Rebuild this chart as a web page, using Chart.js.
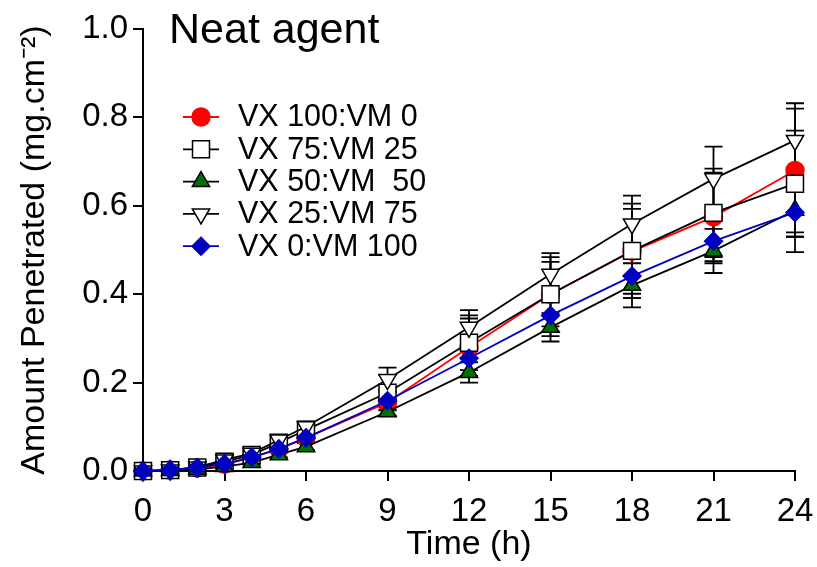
<!DOCTYPE html>
<html lang="en">
<head>
    <meta charset="UTF-8">
    <title>Neat agent</title>
    <script src="https://cdn.jsdelivr.net/npm/chart.js"></script>
    <style>
        body { margin: 0; background: #fff; }
        #wrap { width: 817px; height: 567px; }
    </style>
</head>
<body>
    <div id="wrap"><canvas id="chart" width="817" height="567"></canvas></div>

    <script>
        // Time points (h)
        const times = [0, 1, 2, 3, 4, 5, 6, 9, 12, 15, 18, 21, 24];

        // Mean amount penetrated (mg.cm-2)
        const vx100 = [0, 0.002, 0.007, 0.015, 0.030, 0.050, 0.075, 0.155, 0.280, 0.400, 0.497, 0.575, 0.680];
        const vx75  = [0, 0.002, 0.008, 0.021, 0.036, 0.064, 0.093, 0.177, 0.290, 0.400, 0.498, 0.584, 0.650];
        const vx50  = [0, 0.001, 0.004, 0.010, 0.019, 0.037, 0.055, 0.134, 0.223, 0.325, 0.420, 0.498, 0.590];
        const vx25  = [0, 0.002, 0.009, 0.025, 0.040, 0.070, 0.100, 0.207, 0.325, 0.445, 0.559, 0.661, 0.748];
        const vx0   = [0, 0.002, 0.008, 0.016, 0.031, 0.050, 0.075, 0.159, 0.255, 0.352, 0.441, 0.520, 0.585];

        // Error bars (+/-)
        const err100 = [0, 0.001, 0.002, 0.004, 0.006, 0.008, 0.010, 0.030, 0.065, 0.073, 0.096, 0.100, 0.140];
        const err75  = [0, 0.001, 0.002, 0.004, 0.006, 0.008, 0.012, 0.040, 0.062, 0.084, 0.107, 0.100, 0.120];
        const err50  = [0, 0.001, 0.002, 0.003, 0.005, 0.006, 0.008, 0.010, 0.023, 0.032, 0.050, 0.050, 0.060];
        const err25  = [0, 0.001, 0.002, 0.004, 0.006, 0.008, 0.012, 0.027, 0.039, 0.048, 0.064, 0.073, 0.084];
        const err0   = [0, 0.001, 0.002, 0.003, 0.005, 0.006, 0.008, 0.020, 0.040, 0.047, 0.050, 0.050, 0.090];

        const xTicks = [0, 3, 6, 9, 12, 15, 18, 21, 24];
        const yTicks = [0, 0.2, 0.4, 0.6, 0.8, 1.0];

        const FONT = 'Liberation Sans, Arial, Helvetica, sans-serif';

        function pts(vals) {
            return times.map((t, i) => ({ x: t, y: vals[i] }));
        }

        function series(label, vals, errs, opts) {
            return Object.assign({
                label: label,
                data: pts(vals),
                errors: errs,
                borderWidth: 1.8,
                pointBorderWidth: 1.5,
                tension: 0,
                clip: false,
                fill: false
            }, opts);
        }

        const datasets = [
            series('VX 100:VM 0', vx100, err100, { borderColor: '#ff0000', pointBackgroundColor: '#ff0000', pointBorderColor: '#ff0000', pointStyle: 'circle', pointRadius: 9, order: 5 }),
            series('VX 75:VM 25', vx75, err75, { borderColor: '#000', pointBackgroundColor: '#fff', pointBorderColor: '#000', pointStyle: 'rect', pointRadius: 12, order: 4 }),
            series('VX 50:VM  50', vx50, err50, { borderColor: '#000', pointBackgroundColor: '#007000', pointBorderColor: '#000', pointStyle: 'triangle', pointRadius: 10, order: 3 }),
            series('VX 25:VM 75', vx25, err25, { borderColor: '#000', pointBackgroundColor: '#fff', pointBorderColor: '#000', pointStyle: 'triangle', pointRotation: 180, pointRadius: 10, order: 2 }),
            series('VX 0:VM 100', vx0, err0, { borderColor: '#0000c0', pointBackgroundColor: '#0000c0', pointBorderColor: '#0000c0', pointStyle: 'rectRot', pointRadius: 9, order: 1 })
        ];

        // Error bars drawn under the markers
        const errorBars = {
            id: 'errorBars',
            beforeDatasetsDraw(chart) {
                const ctx = chart.ctx;
                const xs = chart.scales.x, ys = chart.scales.y;
                ctx.save();
                ctx.strokeStyle = '#000';
                ctx.lineWidth = 1.8;
                chart.data.datasets.forEach(ds => {
                    ds.data.forEach((p, i) => {
                        const e = ds.errors[i];
                        if (!e) return;
                        const x = xs.getPixelForValue(p.x);
                        const top = ys.getPixelForValue(p.y + e);
                        const bot = ys.getPixelForValue(p.y - e);
                        ctx.beginPath();
                        ctx.moveTo(x, top); ctx.lineTo(x, bot);
                        ctx.moveTo(x - 9, top); ctx.lineTo(x + 9, top);
                        ctx.moveTo(x - 9, bot); ctx.lineTo(x + 9, bot);
                        ctx.stroke();
                    });
                });
                ctx.restore();
            }
        };

        // Title and legend inside the plot
        const overlay = {
            id: 'overlay',
            afterDraw(chart) {
                const ctx = chart.ctx;
                ctx.save();
                ctx.fillStyle = '#000';
                ctx.font = '43px ' + FONT;
                ctx.textBaseline = 'alphabetic';
                ctx.textAlign = 'left';
                ctx.fillText('Neat agent', 169, 43);

                ctx.font = '30.5px ' + FONT;
                ctx.textBaseline = 'middle';
                chart.data.datasets.forEach((ds, i) => {
                    const y = 117 + i * 32.3;
                    ctx.strokeStyle = ds.borderColor;
                    ctx.lineWidth = 1.8;
                    ctx.beginPath();
                    ctx.moveTo(183, y); ctx.lineTo(219, y);
                    ctx.stroke();
                    ctx.fillStyle = ds.pointBackgroundColor;
                    ctx.strokeStyle = ds.pointBorderColor;
                    ctx.lineWidth = 1.5;
                    Chart.helpers.drawPoint(ctx, {
                        pointStyle: ds.pointStyle,
                        radius: ds.pointRadius,
                        rotation: ds.pointRotation || 0,
                        borderWidth: 1.5
                    }, 201, y);
                    ctx.fillStyle = '#000';
                    ctx.fillText(ds.label, 238, y + 1);
                });
                ctx.restore();
            }
        };

        const axisCommon = {
            grid: { display: true, drawOnChartArea: false, drawTicks: true, tickLength: 10, color: '#000', lineWidth: 2 },
            border: { display: true, color: '#000', width: 2 }
        };

        new Chart(document.getElementById('chart'), {
            type: 'line',
            data: { datasets: datasets },
            options: {
                responsive: false,
                animation: false,
                layout: { padding: { top: 29, right: 22, left: 0, bottom: 0 } },
                plugins: { legend: { display: false }, tooltip: { enabled: false } },
                scales: {
                    x: Object.assign({
                        type: 'linear',
                        min: 0, max: 24,
                        afterBuildTicks: s => { s.ticks = xTicks.map(v => ({ value: v })); },
                        afterFit: s => { s.height = 96; s.paddingLeft = 0; s.paddingRight = 0; },
                        ticks: { color: '#000', font: { family: FONT, size: 33 }, padding: 11, maxRotation: 0, autoSkip: false },
                        title: { display: true, text: 'Time (h)', color: '#000', font: { family: FONT, size: 34 }, padding: { top: 0, bottom: 2 } }
                    }, axisCommon),
                    y: Object.assign({
                        type: 'linear',
                        min: 0, max: 1.0,
                        afterBuildTicks: s => { s.ticks = yTicks.map(v => ({ value: v })); },
                        afterFit: s => { s.width = 143; s.paddingTop = 0; s.paddingBottom = 0; },
                        ticks: { color: '#000', font: { family: FONT, size: 33 }, padding: 5, callback: v => v.toFixed(1) },
                        title: { display: true, text: 'Amount Penetrated (mg.cm⁻²)', color: '#000', font: { family: FONT, size: 34 }, padding: { top: 14, bottom: 0 } }
                    }, axisCommon)
                }
            },
            plugins: [errorBars, overlay]
        });
    </script>
</body>
</html>
